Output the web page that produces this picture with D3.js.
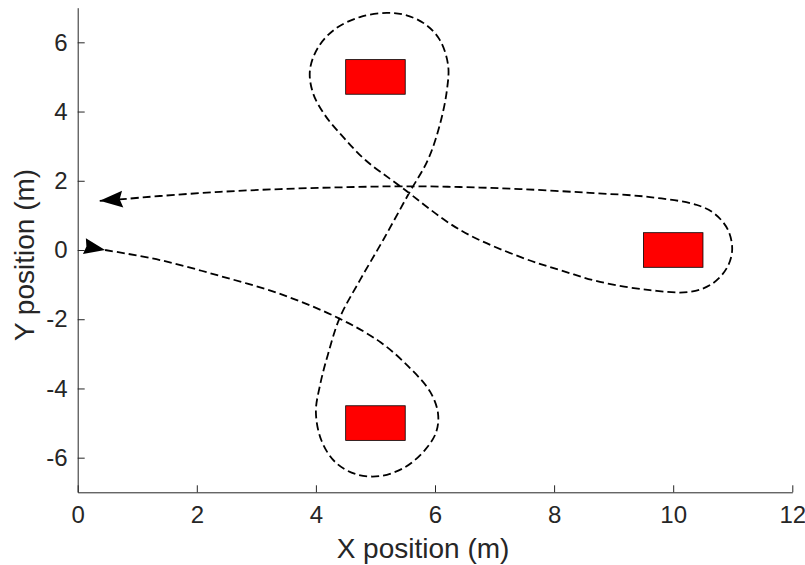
<!DOCTYPE html>
<html>
<head>
<meta charset="utf-8">
<script src="https://cdn.jsdelivr.net/npm/d3@7"></script>
<style>
  html, body { margin: 0; padding: 0; background: #fff; }
  svg { display: block; }
  text { font-family: "Liberation Sans", Arial, Helvetica, sans-serif; }
</style>
</head>
<body>
<svg id="chart" width="805" height="565"></svg>
<script>
// ---- data ----
const xTicks = [0, 2, 4, 6, 8, 10, 12];
const yTicks = [-6, -4, -2, 0, 2, 4, 6];
const xLabel = "X position (m)";
const yLabel = "Y position (m)";

// red obstacles (extents in metres)
const obsX0 = [4.5, 9.5, 4.5];
const obsX1 = [5.5, 10.5, 5.5];
const obsY0 = [4.5, -0.5, -5.5];
const obsY1 = [5.5, 0.5, -4.5];

// trajectory waypoints
const pathX = [0.46, 1.38, 2.39, 3.40, 4.37, 5.08, 5.58, 5.92, 6.05, 6.02, 5.83, 5.50, 5.08, 4.66, 4.32, 4.09, 4.00, 4.07, 4.20, 4.40,
               4.74, 5.13, 5.57, 5.88, 6.08, 6.20, 6.22, 6.08, 5.83, 5.50, 5.19, 4.74, 4.32, 4.04, 3.90, 3.95, 4.15, 4.46, 4.83, 5.41,
               6.42, 7.43, 8.10, 8.77, 9.61, 10.28, 10.65, 10.90, 10.99, 10.92, 10.70, 10.40, 9.61, 8.60, 7.43, 6.42, 5.41, 4.40, 3.40, 2.39,
               1.38, 0.76, 0.37];
const pathY = [0.00, -0.29, -0.75, -1.27, -1.96, -2.66, -3.41, -4.10, -4.71, -5.26, -5.78, -6.27, -6.53, -6.47, -6.12, -5.49, -4.68, -3.90, -3.03, -1.96,
               -0.87, 0.29, 1.66, 2.60, 3.61, 4.62, 5.34, 6.07, 6.53, 6.79, 6.85, 6.73, 6.38, 5.86, 5.20, 4.54, 3.90, 3.26, 2.60, 1.85,
               0.58, -0.20, -0.58, -0.92, -1.16, -1.21, -0.98, -0.52, 0.00, 0.58, 1.04, 1.30, 1.53, 1.65, 1.76, 1.82, 1.84, 1.81, 1.76, 1.68,
               1.56, 1.47, 1.42];

// ---- layout ----
const svg = d3.select("#chart");
const axisColor = "#262626";
const x = d3.scaleLinear().domain([0, 12]).range([77.7, 792.3]);
const y = d3.scaleLinear().domain([-7, 7]).range([492.3, 7.7]);

// obstacles
svg.append("g").selectAll("rect")
  .data(obsX0.map((v, i) => i))
  .join("rect")
  .attr("x", i => x(obsX0[i]))
  .attr("y", i => y(obsY1[i]))
  .attr("width", i => x(obsX1[i]) - x(obsX0[i]))
  .attr("height", i => y(obsY0[i]) - y(obsY1[i]))
  .attr("fill", "#ff0000")
  .attr("stroke", "#000")
  .attr("stroke-width", 0.8);

// trajectory
const pts = pathX.map((v, i) => [x(v), y(pathY[i])]);
svg.append("path")
  .attr("d", d3.line().curve(d3.curveCatmullRom.alpha(0.5))(pts))
  .attr("fill", "none")
  .attr("stroke", "#000")
  .attr("stroke-width", 1.8)
  .attr("stroke-dasharray", "8,4");

// arrowheads
function arrowHead(tip, from, L, W, notch) {
  const dx = tip[0] - from[0], dy = tip[1] - from[1];
  const len = Math.hypot(dx, dy);
  const ux = dx / len, uy = dy / len, nx = -uy, ny = ux;
  const bx = tip[0] - L * ux, by = tip[1] - L * uy;
  const p = d3.path();
  p.moveTo(tip[0], tip[1]);
  p.lineTo(bx + W * nx, by + W * ny);
  p.lineTo(tip[0] - (L - notch) * ux, tip[1] - (L - notch) * uy);
  p.lineTo(bx - W * nx, by - W * ny);
  p.closePath();
  return p.toString();
}
const n = pts.length;
// start marker: tip at the start point, pointing along the motion
svg.append("path")
  .attr("d", arrowHead(pts[0], [2 * pts[0][0] - pts[1][0], 2 * pts[0][1] - pts[1][1]], 21, 8, 2))
  .attr("fill", "#000");
// end arrow
svg.append("path")
  .attr("d", arrowHead(pts[n - 1], pts[n - 2], 23, 8.5, 3))
  .attr("fill", "#000");

// axes
const fs = 24;
const gx = svg.append("g")
  .attr("transform", `translate(0,${y(-7)})`)
  .call(d3.axisBottom(x).tickValues(xTicks).tickFormat(d3.format("d"))
    .tickSizeInner(-7).tickSizeOuter(0).tickPadding(14));
const gy = svg.append("g")
  .attr("transform", `translate(${x(0)},0)`)
  .call(d3.axisLeft(y).tickValues(yTicks).tickFormat(d3.format("d"))
    .tickSizeInner(-7).tickSizeOuter(0).tickPadding(10));
[gx, gy].forEach(g => {
  g.select(".domain").attr("stroke", axisColor).attr("stroke-width", 1);
  g.selectAll(".tick line").attr("stroke", axisColor).attr("stroke-width", 1);
  g.selectAll(".tick text").attr("fill", axisColor)
    .style("font-size", fs + "px")
    .style("font-family", '"Liberation Sans", Arial, sans-serif');
});
// keep ascii hyphen like the reference
gy.selectAll(".tick text").text(d => String(d));

// axis labels
svg.append("text")
  .attr("x", 423)
  .attr("y", 558)
  .attr("text-anchor", "middle")
  .attr("fill", axisColor)
  .style("font-size", "28px")
  .text(xLabel);
svg.append("text")
  .attr("transform", `translate(34,255) rotate(-90)`)
  .attr("text-anchor", "middle")
  .attr("fill", axisColor)
  .style("font-size", "28px")
  .text(yLabel);
</script>
</body>
</html>
